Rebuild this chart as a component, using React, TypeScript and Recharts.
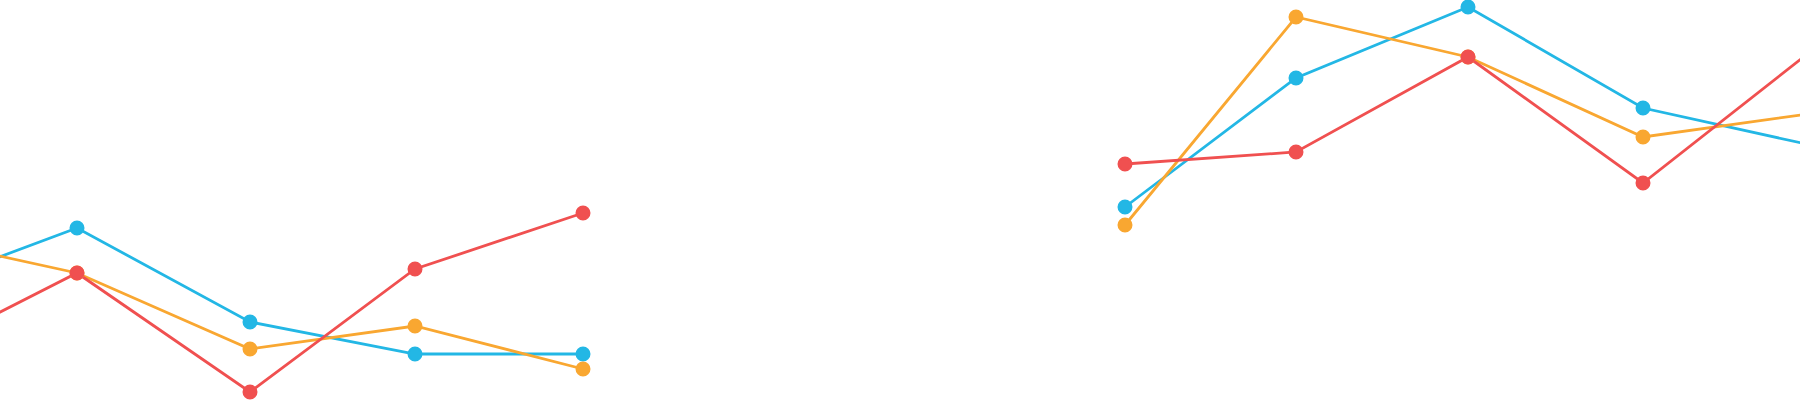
import { Line, LineChart, XAxis, YAxis } from "recharts";

// horizontal position of each sample (chart units, 0..1800 visible)
const positions = [-92, 77, 250, 415, 583, 850, 1125, 1296, 1468, 1643, 1815];

// values per series (0..400 visible); null leaves the gap between the two groups
const blueValues = [109, 172, 78, 46, 46, null, 193, 322, 393, 292, 254];
const orangeValues = [164, 127, 51, 74, 31, null, 175, 383, 343, 263, 287];
const redValues = [41, 127, 8, 131, 187, null, 236, 248, 343, 217, 352];

const COLORS = {
  blue: "#23b7e5",
  orange: "#f9a731",
  red: "#f05050",
};

const data = positions.map((t, i) => ({
  t,
  blue: blueValues[i],
  orange: orangeValues[i],
  red: redValues[i],
}));

const series = [
  { key: "blue", color: COLORS.blue },
  { key: "orange", color: COLORS.orange },
  { key: "red", color: COLORS.red },
];

export default function App() {
  return (
    <div
      style={{
        position: "fixed",
        top: 0,
        left: 0,
        width: 1800,
        height: 400,
        background: "#ffffff",
      }}
    >
      <LineChart
        width={1800}
        height={400}
        data={data}
        margin={{ top: 0, right: 0, bottom: 0, left: 0 }}
      >
        <XAxis
          type="number"
          dataKey="t"
          domain={[0, 1800]}
          allowDataOverflow
          hide
        />
        <YAxis type="number" domain={[0, 400]} allowDataOverflow hide />
        {series.map((s) => (
          <Line
            key={s.key}
            type="linear"
            dataKey={s.key}
            stroke={s.color}
            strokeWidth={2.8}
            dot={{ r: 6.5, fill: s.color, stroke: s.color, strokeWidth: 2 }}
            activeDot={false}
            isAnimationActive={false}
          />
        ))}
      </LineChart>
    </div>
  );
}
